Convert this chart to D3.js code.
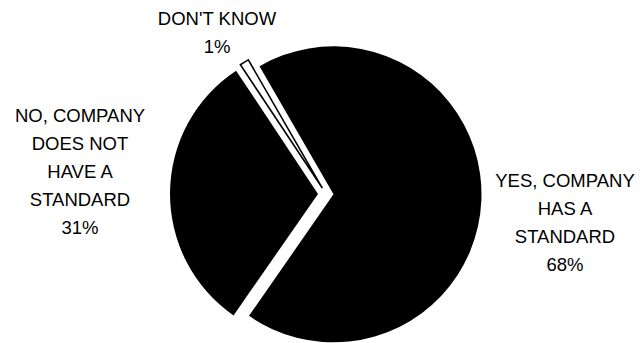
<!DOCTYPE html>
<html>
<head>
<meta charset="utf-8">
<script src="https://cdn.jsdelivr.net/npm/d3@7"></script>
<style>
  html, body { margin: 0; padding: 0; background: #fff; }
  svg { display: block; }
  text { font-family: "Liberation Sans", Arial, sans-serif; font-size: 18.5px; fill: #000; }
</style>
</head>
<body>
<svg id="chart" width="641" height="343"></svg>
<script>
// Survey answers, in drawing order (clockwise from the upper-left edge)
const categories = ["YES, COMPANY HAS A STANDARD", "NO, COMPANY DOES NOT HAVE A STANDARD", "DON'T KNOW"];
const values = [68, 31, 1];
const labelLines = [
  ["YES, COMPANY", "HAS A", "STANDARD", "68%"],
  ["NO, COMPANY", "DOES NOT", "HAVE A", "STANDARD", "31%"],
  ["DON'T KNOW", "1%"]
];

const svg = d3.select("#chart");
const cx = 326, cy = 194, radius = 148;
const deg = Math.PI / 180;

const pie = d3.pie()
  .sort(null)
  .value(d => d.value)
  .startAngle(-30 * deg)
  .endAngle(330 * deg);

const arc = d3.arc().innerRadius(0).outerRadius(radius);

const data = categories.map((c, i) => ({ name: c, value: values[i] }));
const arcs = pie(data);

// each wedge is pulled out a little along its bisector
const explode = [7.5, 8, 7];
const fills = ["#000", "#000", "#fff"];

const g = svg.append("g").attr("transform", `translate(${cx},${cy})`);

g.selectAll("path")
  .data(arcs)
  .join("path")
  .attr("d", arc)
  .attr("fill", (d, i) => fills[i])
  .attr("stroke", (d, i) => i === 2 ? "#000" : "none")
  .attr("stroke-width", 1.6)
  .attr("stroke-linejoin", "miter")
  .attr("transform", (d, i) => {
    const mid = (d.startAngle + d.endAngle) / 2;
    return `translate(${Math.sin(mid) * explode[i]},${-Math.cos(mid) * explode[i]})`;
  });

// label blocks: centre x and first baseline
const labelPos = [
  { x: 565, y: 187 },
  { x: 80, y: 122 },
  { x: 217, y: 25 }
];
const lineGap = 28;

labelLines.forEach((lines, i) => {
  const t = svg.append("text")
    .attr("text-anchor", "middle")
    .attr("x", labelPos[i].x)
    .attr("y", labelPos[i].y);
  lines.forEach((ln, j) => {
    t.append("tspan")
      .attr("x", labelPos[i].x)
      .attr("y", labelPos[i].y + j * lineGap)
      .text(ln);
  });
});
</script>
</body>
</html>
